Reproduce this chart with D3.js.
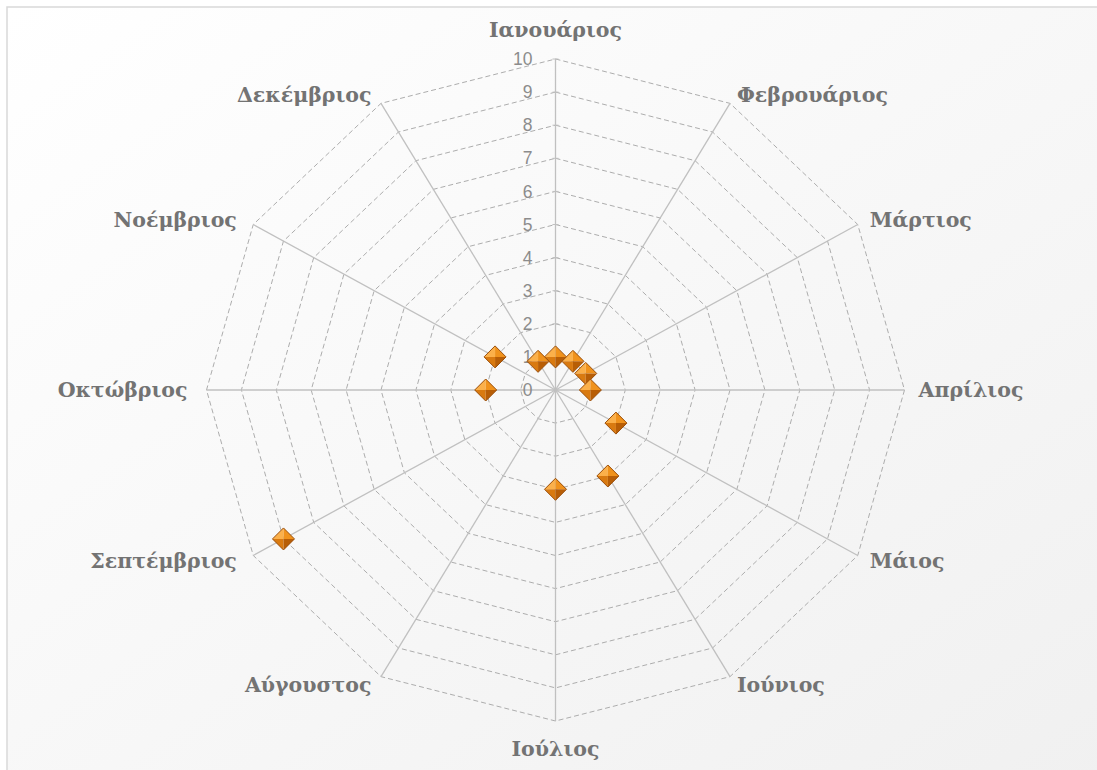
<!DOCTYPE html>
<html>
<head>
<meta charset="utf-8">
<script src="https://cdn.jsdelivr.net/npm/d3@7"></script>
<style>
  body { margin: 0; background: #ffffff; }
  svg { display: block; }
</style>
</head>
<body>
<svg width="1097" height="770"></svg>
<script>
// month names, clockwise from the top
var months = ['Ιανουάριος', 'Φεβρουάριος', 'Μάρτιος', 'Απρίλιος', 'Μάιος', 'Ιούνιος',
              'Ιούλιος', 'Αύγουστος', 'Σεπτέμβριος', 'Οκτώβριος', 'Νοέμβριος', 'Δεκέμβριος'];

// one value per month (August has no point)
var values = [1, 1, 1, 1, 2, 3, 3, null, 9, 2, 2, 1];

// ticks of the radial axis
var ticks = [0, 1, 2, 3, 4, 5, 6, 7, 8, 9, 10];

var svg = d3.select('svg'),
    width = +svg.attr('width'),
    height = +svg.attr('height');

var cx = 555.5, cy = 390;

// the picture is a bit wider than tall, so two radii
var rX = d3.scaleLinear().domain([0, 10]).range([0, 349]);
var rY = d3.scaleLinear().domain([0, 10]).range([0, 331]);
var angle = d3.scaleLinear().domain([0, months.length]).range([0, 2 * Math.PI]);

function pt(i, v) {
  var a = angle(i);
  return [cx + Math.sin(a) * rX(v), cy - Math.cos(a) * rY(v)];
}

//
// background and frame
//
var defs = svg.append('defs');
var bg = defs.append('linearGradient')
    .attr('id', 'bg')
    .attr('x1', '0%').attr('y1', '0%')
    .attr('x2', '100%').attr('y2', '100%');
bg.append('stop').attr('offset', '0%').attr('stop-color', '#ffffff');
bg.append('stop').attr('offset', '100%').attr('stop-color', '#f0f0f0');

svg.append('rect')
    .attr('x', 7).attr('y', 7)
    .attr('width', width + 10).attr('height', height + 10)
    .style('fill', 'url(#bg)')
    .style('stroke', '#d9d9d9')
    .style('stroke-width', 1.5);

//
// rings (dashed polygons)
//
var ring = d3.line();
svg.append('g').attr('class', 'rings')
  .selectAll('path')
  .data(ticks.filter(function (t) { return t > 0; }))
  .enter().append('path')
    .attr('d', function (t) {
      return ring(months.map(function (m, i) { return pt(i, t); })) + 'Z';
    })
    .style('fill', 'none')
    .style('stroke', '#adadad')
    .style('stroke-width', 1)
    .style('stroke-dasharray', '5,3');

//
// spokes
//
svg.append('g').attr('class', 'spokes')
  .selectAll('line')
  .data(months)
  .enter().append('line')
    .attr('x1', cx).attr('y1', cy)
    .attr('x2', function (m, i) { return pt(i, 10)[0]; })
    .attr('y2', function (m, i) { return pt(i, 10)[1]; })
    .style('stroke', '#c0c0c0')
    .style('stroke-width', 1.3);

// small tick marks on the top spoke
svg.append('g').selectAll('line')
  .data(ticks)
  .enter().append('line')
    .attr('x1', cx - 3).attr('x2', cx + 3)
    .attr('y1', function (t) { return cy - rY(t); })
    .attr('y2', function (t) { return cy - rY(t); })
    .style('stroke', '#c0c0c0')
    .style('stroke-width', 1);

// tick labels
svg.append('g').attr('class', 'ticks')
  .selectAll('text')
  .data(ticks)
  .enter().append('text')
    .attr('x', cx - 23)
    .attr('y', function (t) { return cy - rY(t); })
    .attr('dy', '0.35em')
    .attr('text-anchor', 'end')
    .style('font-family', 'Liberation Sans, Arial, sans-serif')
    .style('font-size', '17.5px')
    .style('fill', '#8c8c8c')
    .text(function (t) { return t; });

//
// month labels
//
svg.append('g').attr('class', 'labels')
  .selectAll('text')
  .data(months)
  .enter().append('text')
    .each(function (m, i) {
      var a = angle(i), s = Math.sin(a), c = Math.cos(a);
      var p = pt(i, 10);
      var x = p[0], y = p[1], anchor = 'middle';
      if (Math.abs(s) < 0.01) {
        y += c > 0 ? -29 : 28;
      } else {
        // the left side sits a little further out
        x += s * (s > 0 ? 14 : 19);
        y -= c * 10;
        anchor = s > 0 ? 'start' : 'end';
      }
      d3.select(this)
        .attr('x', x).attr('y', y)
        .attr('dy', '0.35em')
        .attr('text-anchor', anchor);
    })
    .style('font-family', 'DejaVu Serif, serif')
    .style('font-weight', 'bold')
    .style('font-size', '20.5px')
    .style('fill', '#737373')
    .text(function (m) { return m; });

//
// markers: bevelled orange diamonds
//
var h = 11;
var facets = [
  {d: [[0, -h], [0, 0], [-h, 0]], c: '#fbb04a'},
  {d: [[0, -h], [h, 0], [0, 0]], c: '#f0921c'},
  {d: [[-h, 0], [0, 0], [0, h]], c: '#d97a10'},
  {d: [[0, 0], [h, 0], [0, h]], c: '#b85e06'}
];

var pts = values
  .map(function (v, i) { return {v: v, i: i}; })
  .filter(function (d) { return d.v != null; });

var mk = svg.append('g').attr('class', 'markers')
  .selectAll('g')
  .data(pts)
  .enter().append('g')
    .attr('transform', function (d) {
      var p = pt(d.i, d.v);
      return 'translate(' + p[0] + ',' + p[1] + ')';
    });

mk.selectAll('path.facet')
  .data(facets)
  .enter().append('path')
    .attr('class', 'facet')
    .attr('d', function (f) { return ring(f.d) + 'Z'; })
    .style('fill', function (f) { return f.c; });

mk.append('path')
    .attr('d', ring([[0, -h], [h, 0], [0, h], [-h, 0]]) + 'Z')
    .style('fill', 'none')
    .style('stroke', '#9a4d08')
    .style('stroke-width', 1);
</script>
</body>
</html>
